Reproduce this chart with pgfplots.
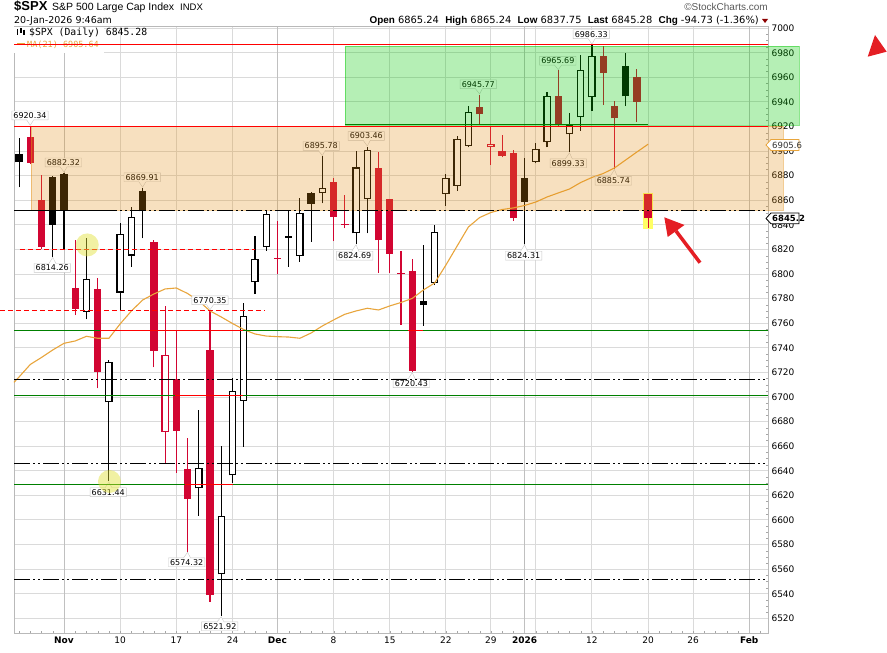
\documentclass[border=0pt]{standalone}
\usepackage{fontspec}
\setmainfont{Liberation Sans}
\newfontfamily\dv{DejaVu Sans}
\newfontfamily\dvm{DejaVu Sans Mono}
\usepackage{pgfplots}
\usepackage{pgfplotstable}
\pgfplotsset{compat=1.18}
\usetikzlibrary{shapes.callouts}

\definecolor{cred}{RGB}{210,5,50}
\definecolor{zoneor}{RGB}{226,141,18}
\definecolor{zonegr}{RGB}{0,200,0}
\definecolor{gline}{RGB}{0,128,0}
\definecolor{maor}{RGB}{232,165,60}
\definecolor{gridc}{RGB}{218,218,218}
\definecolor{gridm}{RGB}{192,192,192}
\definecolor{arrowred}{RGB}{228,30,36}
\definecolor{lblgray}{RGB}{200,200,200}
\definecolor{hlyellow}{RGB}{255,255,100}
\definecolor{circyel}{RGB}{225,225,50}

% x = trading day, 0 = 3 Nov 2025, 52 = 20 Jan 2026
% black, close < open
\pgfplotstableread{
i o h l c
-4 6897.7 6910.4 6870.6 6890.9
-1 6879.2 6879.5 6814.26 6840.2
0 6881.5 6882.32 6819.6 6851.97
7 6867.6 6869.91 6829.1 6850.9
20 6831.0 6852.1 6806.0 6829.4
22 6866.2 6867.0 6826.3 6857.1
32 6778.1 6823.7 6758.0 6774.8
41 6877.9 6894.2 6824.31 6858.5
50 6969.3 6979.6 6936.7 6944.5
}\blackfill
% black, close > open
\pgfplotstableread{
i o h l c
2 6769.4 6829.1 6763.2 6796.3
4 6695.7 6730.1 6631.44 6728.8
5 6784.9 6841.3 6770.8 6832.4
6 6815.0 6854.3 6806.0 6846.6
12 6625.8 6689.5 6603.5 6642.2
14 6555.8 6660.2 6521.92 6603.0
15 6636.3 6715.2 6630.3 6705.1
16 6696.8 6776.3 6659.6 6765.9
17 6793.3 6831.0 6783.6 6812.6
18 6821.8 6852.1 6819.0 6849.1
21 6814.9 6861.6 6810.1 6849.7
23 6865.7 6895.78 6857.6 6870.4
26 6833.2 6900.4 6824.69 6886.7
27 6860.8 6903.46 6833.2 6901.0
33 6792.5 6839.6 6791.0 6834.5
34 6865.1 6881.4 6855.4 6878.5
35 6871.9 6911.9 6867.8 6909.8
36 6904.4 6936.7 6903.0 6932.1
42 6891.4 6906.4 6890.0 6902.1
43 6907.2 6948.3 6903.1 6944.8
45 6913.7 6930.8 6899.33 6921.5
46 6927.5 6978.2 6916.6 6966.3
47 6943.8 6986.33 6932.9 6977.3
}\blackhollow
% red, close < open
\pgfplotstableread{
i o h l c
-3 6911.2 6920.34 6889.5 6890.6
-2 6860.3 6880.6 6820.2 6822.3
1 6788.4 6827.7 6766.7 6771.6
3 6787.6 6796.6 6707.1 6720.3
8 6826.3 6827.7 6724.2 6737.5
10 6714.4 6754.5 6638.5 6672.4
11 6641.5 6666.4 6574.32 6617.3
13 6738.3 6770.35 6533.5 6538.8
24 6874.7 6878.4 6826.9 6846.5
28 6886.5 6899.5 6801.1 6827.4
29 6860.8 6860.9 6801.1 6816.5
31 6802.5 6812.3 6720.43 6721.4
37 6935.7 6945.77 6921.3 6929.9
39 6900.1 6913.1 6895.0 6896.2
40 6898.7 6900.9 6843.4 6845.5
44 6944.8 6965.69 6919.5 6920.9
48 6977.4 6985.5 6937.5 6963.7
49 6936.7 6941.0 6885.74 6926.6
51 6960.0 6966.8 6923.9 6940.0
52 6865.24 6865.24 6837.75 6845.28
}\redfill
% red, close > open
\pgfplotstableread{
i o h l c
9 6671.8 6774.0 6646.6 6734.1
38 6903.1 6919.9 6888.7 6905.7
}\redhollow
% red, open = close
\pgfplotstableread{
i o h l c
19 6812.6 6843.2 6799.8 6812.6
25 6840.5 6864.3 6837.2 6840.5
30 6800.3 6819.0 6758.6 6800.3
}\redcross
% MA(21)
\pgfplotstableread{
i ma
-4.45 6712.0
-4 6716.3
-3 6726.5
-2 6732.2
-1 6738.3
0 6743.7
1 6745.6
2 6749.4
3 6747.8
4 6747.8
5 6759.5
6 6770.0
7 6778.9
8 6783.8
9 6787.9
10 6788.7
11 6784.2
12 6778.1
13 6770.0
14 6765.1
15 6759.8
16 6754.9
17 6751.3
18 6749.6
19 6749.1
20 6748.8
21 6747.8
22 6752.1
23 6757.8
24 6762.7
25 6767.3
26 6770.0
27 6772.2
28 6770.8
29 6774.1
30 6776.9
31 6780.2
32 6787.1
33 6792.8
34 6807.4
35 6822.9
36 6838.3
37 6846.0
38 6850.1
39 6852.5
40 6853.8
41 6855.8
42 6858.6
43 6862.7
44 6866.0
45 6869.2
46 6874.5
47 6878.6
48 6881.8
49 6886.3
50 6892.8
51 6899.3
52 6905.64
}\maline

\newcommand{\wicks}[2]{\addplot[draw=none,mark=none,forget plot,
  error bars/.cd,y dir=plus,y explicit,error mark=none,
  error bar style={draw=#2,solid,line width=1.1pt}]
  table[x=i,y=l,y error expr=\thisrow{h}-\thisrow{l}]{#1};}
\newcommand{\fillbody}[2]{\addplot[draw=none,mark=none,forget plot,
  error bars/.cd,y dir=plus,y explicit,error mark=none,
  error bar style={draw=#2,solid,line width=7.4pt}]
  table[x=i,y expr={min(\thisrow{o},\thisrow{c})},
        y error expr={abs(\thisrow{c}-\thisrow{o})}]{#1};}
\newcommand{\hollowbody}[2]{\fillbody{#1}{#2}
  \addplot[draw=none,mark=none,forget plot,
  error bars/.cd,y dir=plus,y explicit,error mark=none,
  error bar style={draw=white,solid,line width=5.0pt}]
  table[x=i,y expr={min(\thisrow{o},\thisrow{c})+0.95},
        y error expr={abs(\thisrow{c}-\thisrow{o})-1.9}]{#1};}
\newcommand{\hlevel}[4]{\addplot[#1,forget plot] coordinates {(#2,#4) (#3,#4)};}

\tikzset{vlab/.style={rectangle callout,draw=lblgray,fill=white,
  font=\dv\fontsize{8}{9}\selectfont,inner xsep=1.6pt,inner ysep=1.4pt,
  callout pointer width=7pt,text=black}}
\newcommand{\vlab}[5]{\node[vlab,callout absolute pointer={(axis cs:#3,#4)}] at (axis cs:#1,#2) {#5};}

\begin{document}
\begin{tikzpicture}
\path[use as bounding box] (0,0) rectangle (887pt,653pt);
\begin{axis}[
  at={(14pt,19.7pt)}, anchor=south west,
  width=754pt, height=606.6pt, scale only axis,
  xmin=-4.451, xmax=62.67, ymin=6507.84, ymax=7001.21,
  clip=false,
  axis line style={draw=gray!55},
  xtick={0,5,10,15,19,24,29,34,38,41,42,47,52,56,61},
  xticklabels={\textbf{Nov},10,17,24,\textbf{Dec},8,15,22,29,\textbf{2026},,12,20,26,\textbf{Feb}},
  extra x ticks={0,19,41,61},
  extra x tick labels={},
  extra x tick style={grid=major,major grid style={draw=gridm,line width=0.9pt}},
  ytick={6520,6540,...,7000},
  minor y tick num=3,
  minor xtick={-4,-3,...,62},
  xtick pos=left, ytick pos=right,
  yticklabel pos=right,
  xmajorgrids, ymajorgrids,
  major grid style={draw=gridc,line width=1pt},
  major tick length=0pt, minor tick length=2pt,
  tick align=inside,
  tick style={draw=gray!70},
  scaled y ticks=false,
  tick label style={font=\dv\fontsize{9}{10}\selectfont},
  /pgf/number format/.cd, 1000 sep={}, assume math mode=true,
]
% legend background
\node[fill=white,inner sep=0pt,minimum width=90pt,minimum height=26pt,anchor=north west] at (axis cs:-4.44,7001.1) {};

% highlight behind the last candle
\addplot[fill=hlyellow,draw=none,forget plot] coordinates {(51.54,6836.4) (52.43,6836.4) (52.43,6866.2) (51.54,6866.2)} -- cycle;

% candles
\wicks{\blackfill}{black}
\wicks{\blackhollow}{black}
\wicks{\redfill}{cred}
\wicks{\redhollow}{cred}
\wicks{\redcross}{cred}
\fillbody{\blackfill}{black}
\hollowbody{\blackhollow}{black}
\fillbody{\redfill}{cred}
\hollowbody{\redhollow}{cred}
\addplot[draw=none,mark=none,forget plot,
  error bars/.cd,x dir=both,x fixed=0.34,error mark=none,
  error bar style={draw=cred,solid,line width=1.1pt}]
  table[x=i,y=c]{\redcross};

% moving average
\addplot[maor,line width=1.1pt,forget plot] table[x=i,y=ma]{\maline};

% swing labels
\vlab{-3.03}{6929.0}{-3}{6921.0}{6920.34}
\vlab{-0.06}{6890.8}{0}{6883.0}{6882.32}
\vlab{-1.05}{6805.0}{-1}{6813.6}{6814.26}
\vlab{6.96}{6878.7}{7}{6870.6}{6869.91}
\vlab{13.0}{6778.7}{13}{6771.0}{6770.35}
\vlab{3.94}{6622.6}{4}{6630.8}{6631.44}
\vlab{10.92}{6565.6}{11}{6573.7}{6574.32}
\vlab{13.87}{6513.5}{14}{6521.3}{6521.92}
\vlab{22.9}{6904.2}{23}{6896.4}{6895.78}
\vlab{26.91}{6912.3}{27}{6904.1}{6903.46}
\vlab{25.88}{6815.0}{26}{6824.0}{6824.69}
\vlab{30.92}{6711.2}{31}{6719.8}{6720.43}
\vlab{36.88}{6954.4}{37}{6946.4}{6945.77}
\vlab{43.96}{6973.5}{44}{6966.3}{6965.69}
\vlab{46.94}{6995.1}{47}{6987.0}{6986.33}
\vlab{44.89}{6890.1}{45}{6898.7}{6899.33}
\vlab{48.9}{6875.9}{49}{6885.1}{6885.74}
\vlab{40.92}{6815.0}{41}{6823.7}{6824.31}

% legend
\draw[black,line width=1.6pt] (axis cs:-4.15,6999.3) -- (axis cs:-4.15,6994.8);
\draw[black,line width=1.6pt] (axis cs:-3.85,7000.0) -- (axis cs:-3.85,6995.8);
\draw[black,line width=1.6pt] (axis cs:-3.55,6998.8) -- (axis cs:-3.55,6994.5);
\node[anchor=base west,inner sep=0pt,font=\dvm\fontsize{9.8}{10}\selectfont] at (axis cs:-3.116,6994.06) {\$SPX (Daily) 6845.28};
\draw[maor,line width=1.2pt] (axis cs:-4.18,6987.1) -- (axis cs:-3.47,6987.1);
\node[anchor=base west,inner sep=0pt,text=maor,font=\dvm\fontsize{8.5}{10}\selectfont] at (axis cs:-3.294,6983.9) {MA(21) 6905.64};

% zones
\addplot[fill=zoneor,fill opacity=0.27,draw=zoneor,draw opacity=0.45,line width=0.6pt,forget plot]
  coordinates {(-2.94,6852) (64.0,6852) (64.0,6920.34) (-2.94,6920.34)} -- cycle;
\addplot[fill=zonegr,fill opacity=0.29,draw=zonegr,draw opacity=0.45,line width=0.8pt,forget plot]
  coordinates {(25.01,6921.0) (65.43,6921.0) (65.43,6985.5) (25.01,6985.5)} -- cycle;

% horizontal lines
\hlevel{red,line width=1pt}{-4.451}{62.67}{6986.33}
\hlevel{red,line width=1pt}{-4.451}{62.67}{6920.34}
\hlevel{gline,line width=1pt}{25.01}{52}{6921.6}
\hlevel{black,line width=0.9pt,dash pattern=on 16pt off 3pt on 2pt off 3pt on 2pt off 3pt}{-4.451}{62.67}{6852}
\hlevel{black,line width=0.9pt}{-4.451}{4}{6852}
\hlevel{black,line width=0.9pt,dash pattern=on 16pt off 3pt on 2pt off 3pt on 2pt off 3pt}{-4.451}{62.67}{6714.4}
\hlevel{black,line width=0.9pt,dash pattern=on 16pt off 3pt on 2pt off 3pt on 2pt off 3pt}{-4.451}{62.67}{6646.1}
\hlevel{black,line width=0.9pt,dash pattern=on 16pt off 3pt on 2pt off 3pt on 2pt off 3pt}{-4.451}{62.67}{6552.0}
\hlevel{gline,line width=1pt}{-4.451}{62.67}{6754.5}
\hlevel{gline,line width=1pt}{-4.451}{62.67}{6701.4}
\hlevel{gline,line width=1pt}{-4.451}{62.67}{6629.0}
\hlevel{red,line width=1pt}{3.2}{15.96}{6754.5}
\hlevel{red,line width=1pt}{30.6}{32}{6754.5}
\hlevel{red,line width=1pt}{9.9}{15.9}{6701.4}
\hlevel{red,line width=1pt}{10.8}{15}{6629.0}
\hlevel{red,line width=1pt,dash pattern=on 5pt off 3pt}{-3.92}{17.0}{6819.6}
\hlevel{red,line width=1pt,dash pattern=on 5pt off 3pt}{-5.7}{17.9}{6770.35}

% highlighted points
\addplot[only marks,mark=*,mark size=11.5pt,mark options={fill=circyel,fill opacity=0.45,draw opacity=0},forget plot]
  coordinates {(2.07,6823.7) (4.05,6631.3)};
\end{axis}

% header
\node[anchor=base west,inner sep=0pt,font=\bfseries\fontsize{13}{14}\selectfont] at (14pt,642pt) {\$SPX};
\node[anchor=base west,inner sep=0pt,font=\fontsize{10.5}{12}\selectfont] at (52pt,642.3pt) {S\&P 500 Large Cap Index};
\node[anchor=base west,inner sep=0pt,font=\fontsize{9.5}{12}\selectfont] at (180pt,642.3pt) {INDX};
\node[anchor=base west,inner sep=0pt,font=\dv\fontsize{9.5}{12}\selectfont] at (14pt,629.7pt) {20-Jan-2026 9:46am};
\node[anchor=base east,inner sep=0pt,font=\dv\fontsize{9.9}{12}\selectfont] at (759pt,629.7pt)
  {{\rmfamily\bfseries Open} 6865.24\ \ {\rmfamily\bfseries High} 6865.24\ \ {\rmfamily\bfseries Low} 6837.75\ \ {\rmfamily\bfseries Last} 6845.28\ \ {\rmfamily\bfseries Chg} -94.73 (-1.36\%)};
\fill[red!55!black] (762pt,634pt) -- (768pt,634pt) -- (765pt,630pt) -- cycle;
\node[anchor=base east,inner sep=0pt,text=black!65,font=\fontsize{10}{12}\selectfont] at (768pt,642.3pt) {\textcopyright StockCharts.com};

% price tags on the right axis
\draw[maor,fill=white,line width=0.8pt] (766pt,508pt) -- (771pt,513.5pt) -- (799pt,513.5pt) -- (799pt,502.5pt) -- (771pt,502.5pt) -- cycle;
\node[anchor=west,inner sep=0pt,text=black!80,font=\dv\fontsize{8.5}{9}\selectfont] at (772pt,508pt) {6905.6};
\draw[black,fill=white,line width=0.8pt] (766pt,434.6pt) -- (771pt,440pt) -- (799pt,440pt) -- (799pt,429.2pt) -- (771pt,429.2pt) -- cycle;
\node[anchor=west,inner sep=0pt,font=\dv\bfseries\fontsize{8.5}{9}\selectfont] at (772pt,434.6pt) {6845.2};

% annotations
\fill[arrowred] (875pt,618pt) -- (867.7pt,596.3pt) -- (886.7pt,601.3pt) -- cycle;
\draw[arrowred,line width=3.5pt] (700pt,390.3pt) -- (676pt,422pt);
\fill[arrowred] (664.3pt,435.7pt) -- (667.7pt,416pt) -- (684.5pt,428pt) -- cycle;
\end{tikzpicture}
\end{document}
